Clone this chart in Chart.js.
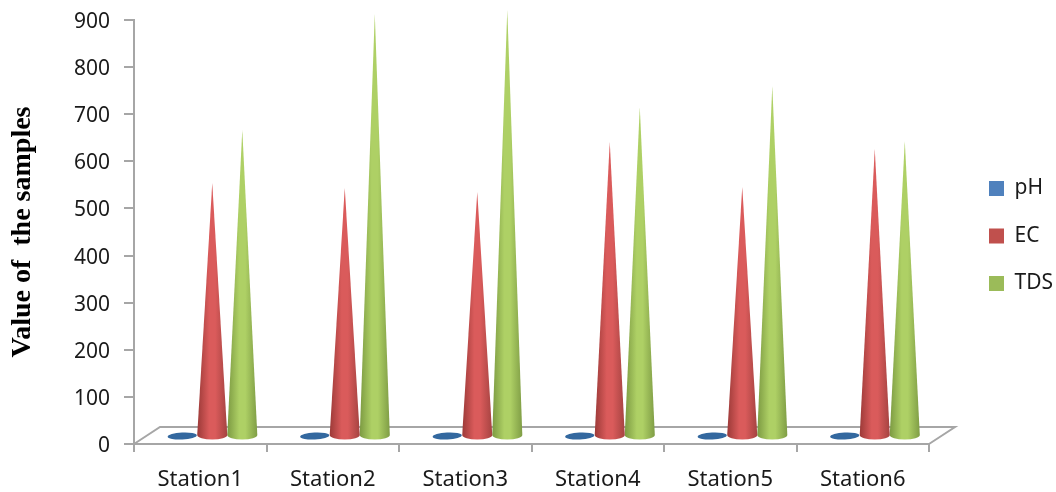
<!DOCTYPE html>
<html><head><meta charset="utf-8">
<style>html,body{margin:0;padding:0;background:#fff}#wrap{width:1056px;height:492px;position:relative}</style>
<script src="https://cdn.jsdelivr.net/npm/chart.js@4/dist/chart.umd.min.js"></script>
</head><body><div id="wrap"><canvas id="c"></canvas></div>
<script>
const categories = ["Station1","Station2","Station3","Station4","Station5","Station6"];
const phValues  = [7.5,7.5,7.5,7.5,7.5,7.5];
const ecValues  = [537,527,518,624,529,609];
const tdsValues = [650,896,904,698,743,626];
const yTicks = [0,100,200,300,400,500,600,700,800,900];
const seriesColors = {pH:"#4f81bd", EC:"#c0504d", TDS:"#9bbb59"};
const coneShades = {
  pH:["#33689f","#3f78b4","#33689f"],
  EC:["#9c3a38","#da5b5b","#a54341"],
  TDS:["#7c9a42","#aed065","#7f9d45"]
};
const GRAY="#a6a6a6", DEPTH_X=26, DEPTH_Y=17, SHIFT_X=12, SHIFT_Y=8, ELL=4.5, PLOT_TOP=20;

const cone3d = {
  id:"cone3d",
  beforeUpdate(chart){
    const lg=chart.legend;
    if(lg && !lg._wrapped){ const f=lg.fit; lg.fit=function(){f.call(this); this.width=127;}; lg._wrapped=true; }
  },
  afterLayout(chart){
    const lg=chart.legend;
    lg.left = 989 - lg.options.labels.padding;
    lg.right = lg.left + lg.width;
    lg.top -= 20; lg.bottom -= 20;
    const y=chart.scales.y;
    y.top=PLOT_TOP; y.height=y.bottom-PLOT_TOP; y.configure();
    chart.chartArea.top=PLOT_TOP; chart.chartArea.height=y.height;
    if(!y._nudged){
      const orig=y._computeLabelItems;
      y._computeLabelItems=function(a){ const items=orig.call(this,a); items.forEach(it=>{it.textOffset+=2;}); return items; };
      y._nudged=true;
    }
  },
  beforeDatasetsDraw(chart){
    const {ctx,chartArea:a}=chart;
    ctx.save();
    ctx.strokeStyle=GRAY; ctx.lineWidth=2;
    ctx.beginPath();
    ctx.moveTo(a.left,a.bottom);
    ctx.lineTo(a.left+DEPTH_X,a.bottom-DEPTH_Y);
    ctx.lineTo(a.right+DEPTH_X,a.bottom-DEPTH_Y);
    ctx.lineTo(a.right,a.bottom);
    ctx.stroke();
    ctx.restore();
  },
  beforeDatasetDraw(chart,args){
    const {ctx}=chart;
    const meta=args.meta;
    const shades=coneShades[chart.data.datasets[args.index].label];
    meta.data.forEach(bar=>{
      const p=bar.getProps(["x","y","base","width"],true);
      const cx=p.x+SHIFT_X, tip=p.y-SHIFT_Y, base=p.base-SHIFT_Y, r=p.width/2;
      if(base-tip<ELL*2){
        ctx.save();
        ctx.fillStyle=shades[0];
        ctx.beginPath();
        ctx.ellipse(cx,base+1,r*0.97,3.5,-0.05,0,Math.PI*2);
        ctx.fill();
        ctx.restore();
        return;
      }
      const g=ctx.createLinearGradient(cx-r,0,cx+r,0);
      g.addColorStop(0,shades[0]); g.addColorStop(0.4,shades[1]); g.addColorStop(0.6,shades[1]); g.addColorStop(1,shades[2]);
      ctx.save();
      ctx.fillStyle=g;
      ctx.beginPath();
      ctx.moveTo(cx,tip);
      ctx.lineTo(cx+r,base);
      ctx.ellipse(cx,base,r,ELL,0,0,Math.PI);
      ctx.lineTo(cx,tip);
      ctx.closePath();
      ctx.fill();
      ctx.restore();
    });
    return false;
  }
};

new Chart(document.getElementById("c"),{
  type:"bar",
  data:{labels:categories,datasets:[
    {label:"pH",data:phValues,backgroundColor:seriesColors.pH},
    {label:"EC",data:ecValues,backgroundColor:seriesColors.EC},
    {label:"TDS",data:tdsValues,backgroundColor:seriesColors.TDS}
  ]},
  plugins:[cone3d],
  options:{
    responsive:true,maintainAspectRatio:false,animation:false,
    layout:{autoPadding:false,padding:{top:20,left:0,right:0,bottom:0}},
    datasets:{bar:{categoryPercentage:0.68,barPercentage:1}},
    plugins:{
      tooltip:{enabled:false},
      legend:{position:"right",align:"center",
        labels:{boxWidth:15,boxHeight:15,padding:26.5,color:"#1a1a1a",font:{family:"Noto Sans",size:21}}}
    },
    scales:{
      x:{
        afterFit(s){s.height=48;},
        grid:{drawOnChartArea:false,color:GRAY,lineWidth:2,tickLength:8},
        border:{color:GRAY,width:2},
        ticks:{color:"#1a1a1a",padding:15,maxRotation:0,font:{family:"Noto Sans",size:22}}
      },
      y:{
        min:0,max:900,
        afterFit(s){s.width=134;},
        afterBuildTicks(s){s.ticks=yTicks.map(v=>({value:v}));},
        grid:{drawOnChartArea:false,color:GRAY,lineWidth:2,tickLength:10},
        border:{color:GRAY,width:2},
        ticks:{color:"#1a1a1a",padding:14,font:{family:"Noto Sans",size:21}},
        title:{display:true,text:"Value of  the samples",color:"#000",padding:{top:6,bottom:0},
          font:{family:"Liberation Serif",size:28,weight:"bold"}}
      }
    }
  }
});
</script></body></html>
